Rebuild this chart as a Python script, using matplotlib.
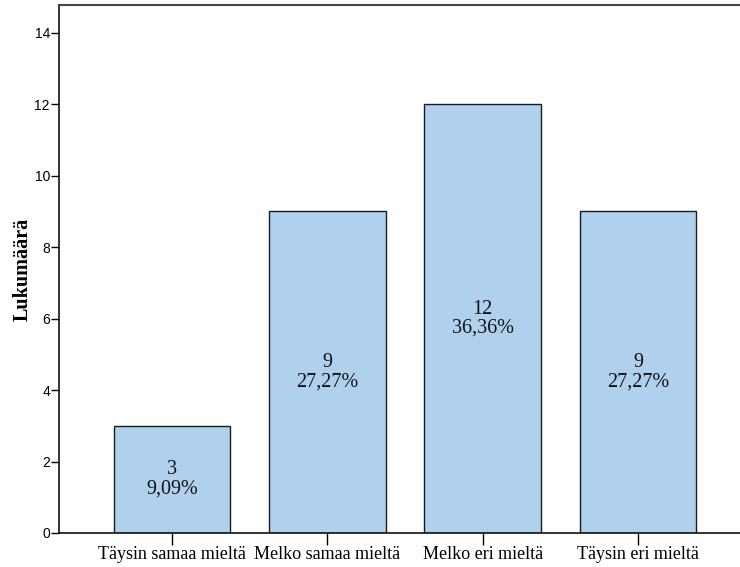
import matplotlib
matplotlib.use("Agg")
import matplotlib.pyplot as plt

categories = ["Täysin samaa mieltä", "Melko samaa mieltä", "Melko eri mieltä", "Täysin eri mieltä"]
counts = [3, 9, 12, 9]
percents = ["9,09%", "27,27%", "36,36%", "27,27%"]
yticks = [0, 2, 4, 6, 8, 10, 12, 14]

fig = plt.figure(figsize=(7.4, 5.67), dpi=100)
ax = fig.add_axes([59 / 740, 34 / 567, 1 - 59 / 740, (533 - 5) / 567])

x = list(range(len(categories)))
ax.bar(x, counts, width=0.75, color="#AFD1EE", edgecolor="#1a1a1a", linewidth=1.0, zorder=2)

for xi, c, p in zip(x, counts, percents):
    ax.text(xi, c / 2, f"{c}\n{p}", ha="center", va="center",
            family="Liberation Serif", fontsize=14.5, color="#111111",
            linespacing=1.0, zorder=3)

ax.set_xlim(-0.727, 3.657)
ax.set_ylim(0, 14.77)
ax.set_yticks(yticks)
ax.set_yticklabels([str(t) for t in yticks], family="Liberation Sans", fontsize=10)
ax.set_xticks(x)
ax.set_xticklabels(categories, family="Liberation Serif", fontsize=13)
ax.tick_params(axis="y", direction="out", length=5.5, width=1.0, pad=1)
ax.tick_params(axis="x", direction="out", length=8.5, width=1.0, pad=1)

ax.set_ylabel("Lukumäärä", family="Liberation Serif", fontsize=14.5, fontweight="bold", labelpad=1.5)

ax.spines["right"].set_visible(False)
ax.spines["top"].set_color("#444444")
ax.spines["top"].set_linewidth(1.5)
for s in ("left", "bottom"):
    ax.spines[s].set_linewidth(1.2)
    ax.spines[s].set_color("#111111")

fig.savefig("out.png", dpi=100)
